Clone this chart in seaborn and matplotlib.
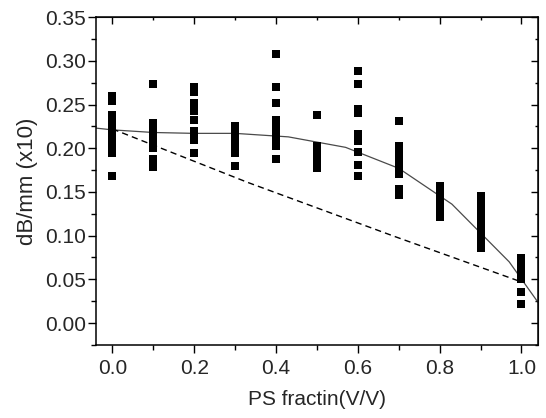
import pandas as pd
import seaborn as sns
import matplotlib.pyplot as plt
from matplotlib.ticker import MultipleLocator

# measured values per PS fraction
fractions = [0.0, 0.1, 0.2, 0.3, 0.4, 0.5, 0.6, 0.7, 0.8, 0.9, 1.0]
vals_00 = [0.260, 0.254, 0.238, 0.232, 0.226, 0.220, 0.214, 0.210, 0.203, 0.194, 0.168]
vals_01 = [0.273, 0.229, 0.223, 0.217, 0.211, 0.206, 0.200, 0.188, 0.178]
vals_02 = [0.270, 0.264, 0.252, 0.243, 0.232, 0.220, 0.214, 0.209, 0.195]
vals_03 = [0.225, 0.219, 0.213, 0.207, 0.201, 0.195, 0.180]
vals_04 = [0.308, 0.270, 0.252, 0.232, 0.224, 0.217, 0.210, 0.203, 0.188]
vals_05 = [0.238, 0.203, 0.196, 0.189, 0.183, 0.177]
vals_06 = [0.288, 0.273, 0.245, 0.240, 0.216, 0.208, 0.196, 0.181, 0.168]
vals_07 = [0.231, 0.203, 0.197, 0.190, 0.183, 0.177, 0.171, 0.153, 0.147]
vals_08 = [0.157, 0.151, 0.145, 0.139, 0.133, 0.127, 0.121]
vals_09 = [0.145, 0.137, 0.128, 0.121, 0.114, 0.107, 0.100, 0.093, 0.086]
vals_10 = [0.074, 0.067, 0.058, 0.050, 0.035, 0.022]
all_vals = [vals_00, vals_01, vals_02, vals_03, vals_04, vals_05,
            vals_06, vals_07, vals_08, vals_09, vals_10]

# model curves
fit_x = [-0.04, 0.0, 0.1, 0.2, 0.3, 0.43, 0.57, 0.7, 0.83, 0.97, 1.04]
fit_y = [0.223, 0.221, 0.218, 0.217, 0.217, 0.213, 0.201, 0.177, 0.136, 0.070, 0.024]
mix_x = [0.0, 0.33, 0.69, 1.0]
mix_y = [0.222, 0.161, 0.099, 0.047]

rows = [(f, v) for f, vals in zip(fractions, all_vals) for v in vals]
df = pd.DataFrame(rows, columns=["fraction", "loss"])

sns.set_style("white")
plt.rcParams['font.family'] = ['Liberation Sans', 'DejaVu Sans']

fig, ax = plt.subplots(figsize=(5.46, 4.18), dpi=100)
fig.subplots_adjust(left=0.176, right=0.985, top=0.959, bottom=0.175)

sns.scatterplot(data=df, x="fraction", y="loss", marker="s", s=26,
                color="black", linewidth=0, ax=ax, zorder=3)
sns.lineplot(x=fit_x, y=fit_y, color="#4a4a4a", linewidth=0.9,
             estimator=None, sort=False, ax=ax)
sns.lineplot(x=mix_x, y=mix_y, color="black", linewidth=1.0,
             estimator=None, sort=False, ax=ax)
ax.lines[-1].set_linestyle((0, (4.5, 3)))

ax.set_xlim(-0.04, 1.04)
ax.set_ylim(-0.025, 0.35)
ax.xaxis.set_major_locator(MultipleLocator(0.2))
ax.xaxis.set_minor_locator(MultipleLocator(0.1))
ax.yaxis.set_major_locator(MultipleLocator(0.05))
ax.yaxis.set_minor_locator(MultipleLocator(0.025))
ax.xaxis.set_major_formatter(plt.FormatStrFormatter('%.1f'))
ax.yaxis.set_major_formatter(plt.FormatStrFormatter('%.2f'))

ax.tick_params(which="both", direction="out", bottom=True, left=True,
               labelsize=15, width=1, color="black")
ax.tick_params(which="major", length=6)
ax.tick_params(which="minor", length=3.5)
ax.tick_params(axis="y", which="major", pad=1.5)
ax.tick_params(axis="x", which="major", pad=4)

# mirrored inward ticks on top and right
top = ax.secondary_xaxis("top")
right = ax.secondary_yaxis("right")
top.xaxis.set_major_locator(MultipleLocator(0.2))
top.xaxis.set_minor_locator(MultipleLocator(0.1))
right.yaxis.set_major_locator(MultipleLocator(0.05))
right.yaxis.set_minor_locator(MultipleLocator(0.025))
for side_ax in (top, right):
    side_ax.tick_params(which="both", direction="in", labelsize=0,
                        width=1, color="black")
    side_ax.tick_params(which="major", length=5)
    side_ax.tick_params(which="minor", length=2.5)
top.set_xticklabels([])
right.set_yticklabels([])

for spine in ax.spines.values():
    spine.set_color("black")
    spine.set_linewidth(1.1)

ax.set_xlabel("PS fractin(V/V)", fontsize=15, labelpad=9)
ax.set_ylabel("dB/mm (x10)", fontsize=16, labelpad=5)

fig.savefig("out.png", dpi=100)
